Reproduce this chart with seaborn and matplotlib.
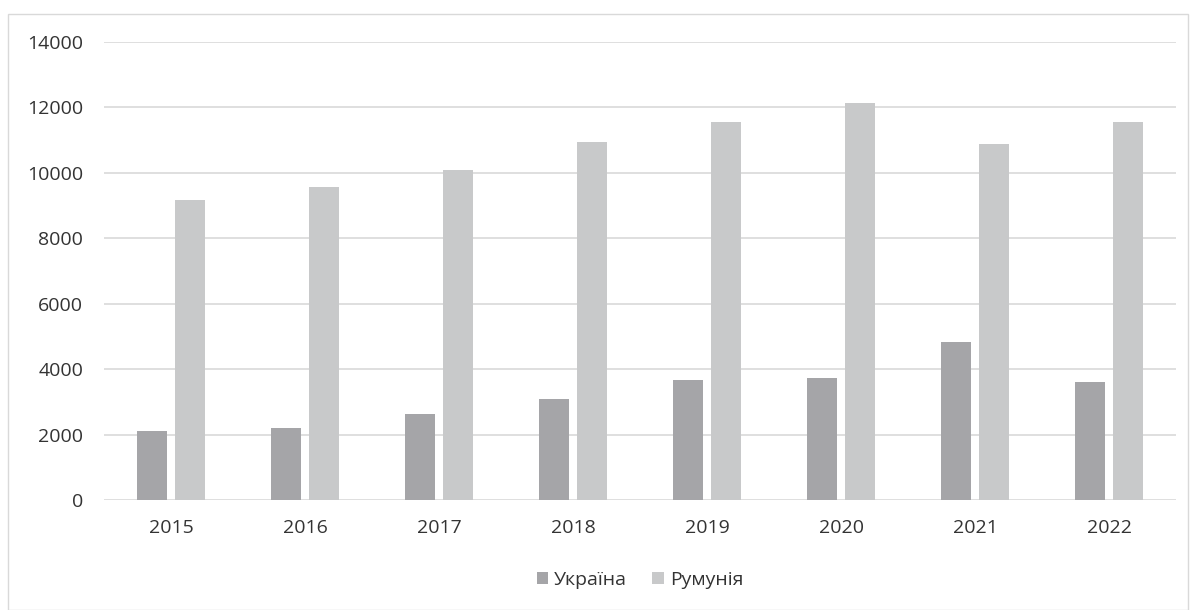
import pandas as pd
import matplotlib.pyplot as plt
import seaborn as sns
from matplotlib.patches import Rectangle

# Data
years = ["2015", "2016", "2017", "2018", "2019", "2020", "2021", "2022"]
ukraine = [2110, 2190, 2640, 3090, 3660, 3720, 4830, 3610]
romania = [9170, 9570, 10090, 10940, 11540, 12140, 10880, 11540]
series_names = ["Україна", "Румунія"]

df = pd.DataFrame({
    "year": years * 2,
    "value": ukraine + romania,
    "country": [series_names[0]] * len(years) + [series_names[1]] * len(years),
})

sns.set_style("white")
plt.rcParams["font.family"] = ["Open Sans", "DejaVu Sans"]

text_color = "#333333"
palette = {series_names[0]: "#A5A5A8", series_names[1]: "#C8C9CA"}

fig = plt.figure(figsize=(11.91, 6.10), dpi=100)
ax = fig.add_axes([104 / 1191, 1 - 500 / 610, 1072 / 1191, 458 / 610])

sns.barplot(data=df, x="year", y="value", hue="country", palette=palette,
            width=0.575, gap=0.22, saturation=1, linewidth=0, ax=ax, legend=True)

ax.set_ylim(0, 14000)
ax.set_yticks(range(0, 14001, 2000))
ax.yaxis.grid(True, color="#D9D9D9", linewidth=1.2)
ax.set_axisbelow(True)
for s in ax.spines.values():
    s.set_visible(False)
ax.tick_params(axis="both", length=0, labelsize=14, labelcolor=text_color)
ax.tick_params(axis="x", pad=14)
ax.tick_params(axis="y", pad=15)
ax.set_xlabel("")
ax.set_ylabel("")
ax.set_xlim(-0.5, len(years) - 0.5)

ax.legend(loc="center", bbox_to_anchor=(0.5, -0.175), ncol=2, frameon=False,
          fontsize=14, labelcolor=text_color, handlelength=0.6, handleheight=0.6,
          handletextpad=0.3, columnspacing=1.3)

# outer chart border
fig.patches.append(Rectangle((8 / 1191, 0), 1180 / 1191, 1 - 14 / 610,
                             transform=fig.transFigure, fill=False,
                             edgecolor="#D9D9D9", linewidth=1))

fig.savefig("out.png", dpi=100)
